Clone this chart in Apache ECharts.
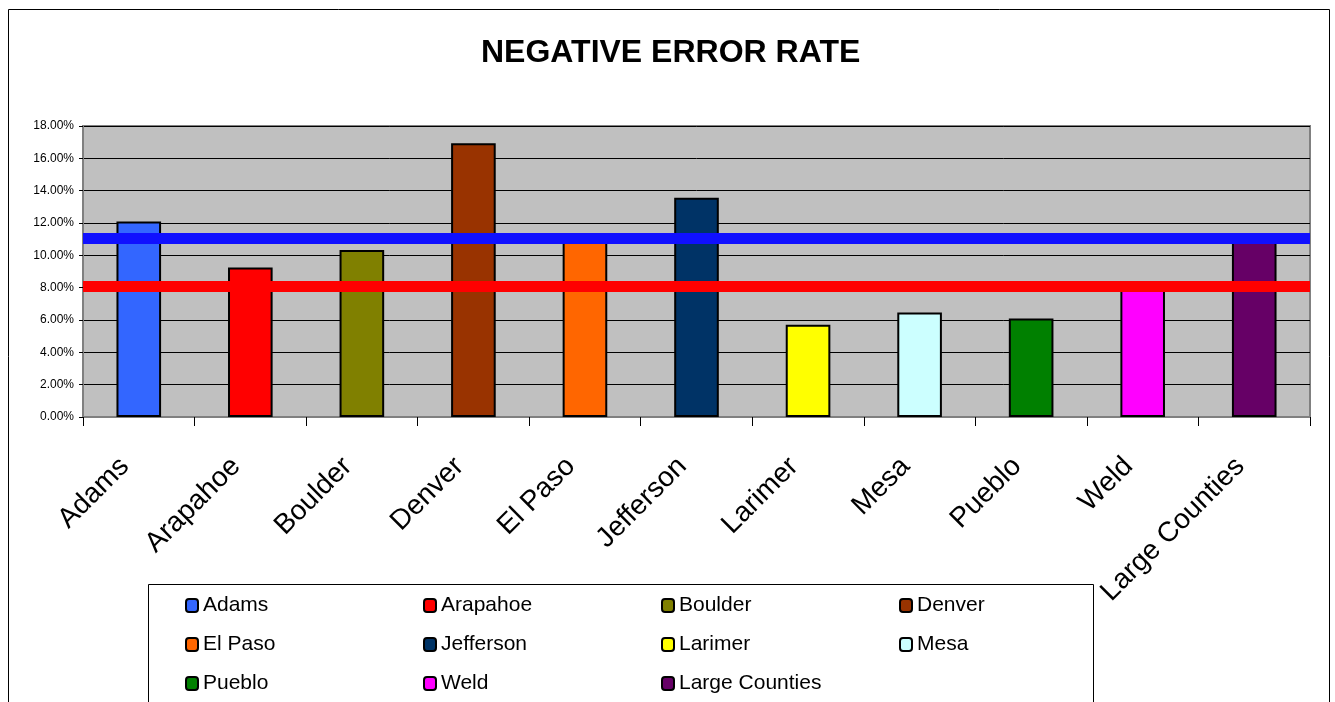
<!DOCTYPE html>
<html>
<head>
<meta charset="utf-8">
<script src="https://cdn.jsdelivr.net/npm/echarts@6/dist/echarts.min.js"></script>
<style>
html,body{margin:0;padding:0;background:#fff;}
#chart{width:1335px;height:702px;}
</style>
</head>
<body>
<div id="chart"></div>
<script>
const categories = ['Adams','Arapahoe','Boulder','Denver','El Paso','Jefferson','Larimer','Mesa','Pueblo','Weld','Large Counties'];
const values = [12.1, 9.25, 10.33, 16.93, 11.0, 13.56, 5.71, 6.47, 6.1, 8.1, 11.0];
const colors = ['#3366FF','#FF0000','#808000','#993300','#FF6600','#003366','#FFFF00','#CCFFFF','#008000','#FF00FF','#660066'];
const refLines = [11.05, 8.07];
const refColors = ['#1010FF','#FF0000'];
const yTicks = [0, 18, 2];

const FONT = 'Liberation Sans, Arial, sans-serif';

const series = categories.map((name, i) => ({
  name: name,
  type: 'bar',
  stack: 'all',
  barWidth: '40%',
  data: categories.map((c, j) => j === i ? values[i] : '-'),
  itemStyle: { color: colors[i], borderColor: '#000', borderWidth: 2 },
  emphasis: { disabled: true },
  z: 2
}));

series.push({
  name: 'refs',
  type: 'line',
  data: [],
  silent: true,
  z: 10,
  markLine: {
    symbol: ['none','none'],
    silent: true,
    label: { show: false },
    animation: false,
    data: refLines.map((v, k) => ({
      yAxis: v,
      lineStyle: { color: refColors[k], width: 11, type: 'solid' }
    }))
  }
});

const chart = echarts.init(document.getElementById('chart'), null, { renderer: 'canvas' });
chart.setOption({
  animation: false,
  backgroundColor: '#fff',
  title: {
    text: 'NEGATIVE ERROR RATE',
    left: 481,
    top: 37,
    padding: 0,
    textStyle: { fontFamily: FONT, fontSize: 32, fontWeight: 'bold', color: '#000' }
  },
  graphic: [
    { type: 'rect', shape: { x: 8.5, y: 9.5, width: 1321, height: 720 },
      style: { fill: 'none', stroke: '#000', lineWidth: 1 }, z: 0, silent: true },
    { type: 'rect', shape: { x: 148.5, y: 584.5, width: 945, height: 140 },
      style: { fill: '#fff', stroke: '#000', lineWidth: 1 }, z: 1, silent: true }
  ],
  grid: {
    left: 83, right: 25, top: 126, bottom: 285,
    show: true, backgroundColor: '#C0C0C0', borderColor: '#808080', borderWidth: 2
  },
  legend: {
    data: categories,
    left: 185, top: 595, width: 940,
    padding: 0,
    orient: 'horizontal',
    itemWidth: 12, itemHeight: 13, itemGap: 18,
    z: 5,
    textStyle: { fontFamily: FONT, fontSize: 21, color: '#000', width: 202, lineHeight: 20, overflow: 'none' }
  },
  xAxis: {
    type: 'category',
    data: categories,
    axisLine: { lineStyle: { color: '#808080', width: 2 } },
    axisTick: { show: true, length: 9, lineStyle: { color: '#000' } },
    axisLabel: { rotate: 45, margin: 31, padding: [0, 20, 0, 0], fontFamily: FONT, fontSize: 28, color: '#000', interval: 0 },
    splitLine: { show: false }
  },
  yAxis: {
    type: 'value',
    min: yTicks[0], max: yTicks[1], interval: yTicks[2],
    axisLine: { show: true, lineStyle: { color: '#808080', width: 2 } },
    axisTick: { show: true, length: 4, lineStyle: { color: '#000' } },
    axisLabel: { margin: 9, fontFamily: FONT, fontSize: 12, color: '#000',
      formatter: v => v.toFixed(2) + '%' },
    splitLine: { show: true, lineStyle: { color: '#000', width: 1 } }
  },
  series: series
});
</script>
</body>
</html>
